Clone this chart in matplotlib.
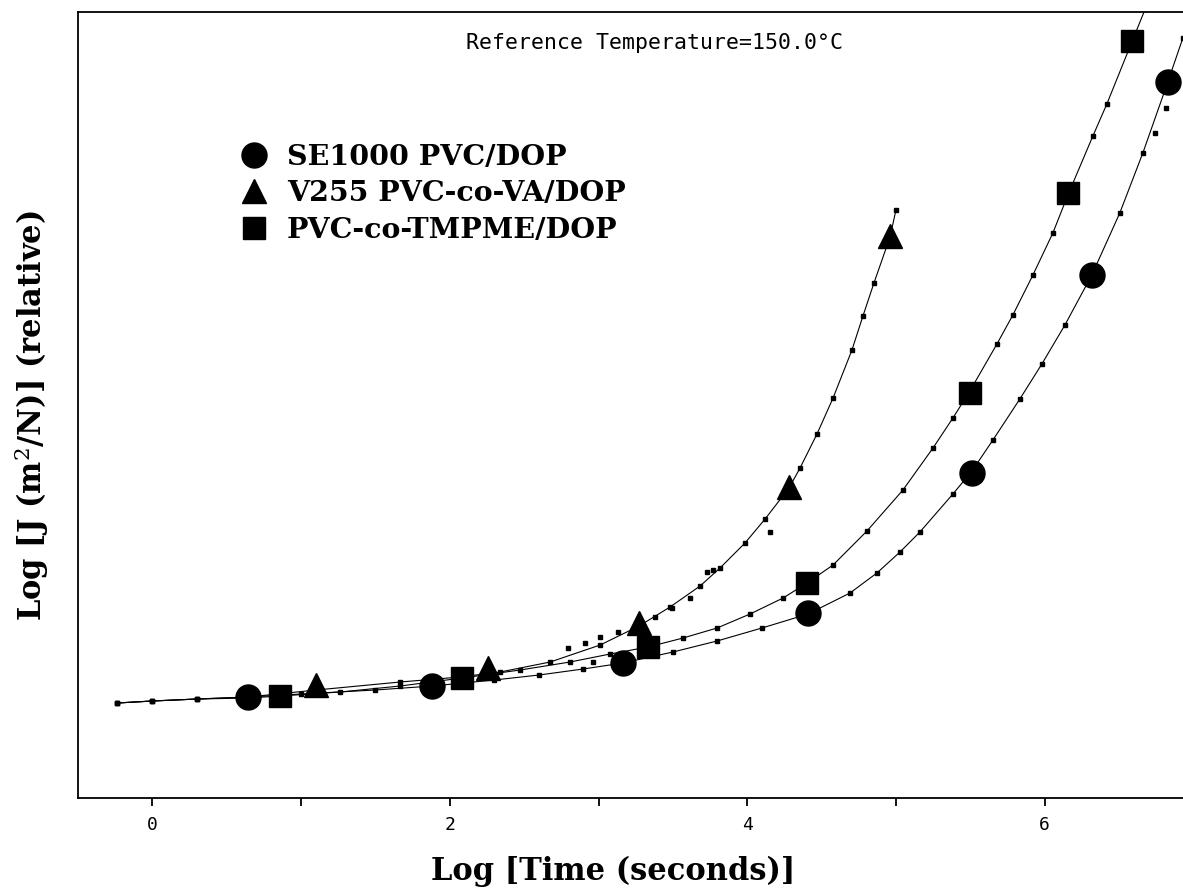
import matplotlib.pyplot as plt
from matplotlib.ticker import FixedLocator

# series names
labels = ["SE1000 PVC/DOP", "V255 PVC-co-VA/DOP", "PVC-co-TMPME/DOP"]

# big symbols (shifted master-curve points)
se_x = [0.645, 1.88, 3.165, 4.41, 5.51, 6.32, 6.83]
se_y = [1.01, 1.12, 1.35, 1.85, 3.25, 5.23, 7.16]
va_x = [1.10, 2.26, 3.27, 4.28, 4.96]
va_y = [1.13, 1.30, 1.75, 3.11, 5.62]
tm_x = [0.86, 2.08, 3.33, 4.40, 5.50, 6.16, 6.59]
tm_y = [1.02, 1.20, 1.51, 2.15, 4.05, 6.05, 7.57]

# fitted curves (with the measured points lying on them)
se_fit_x = [-0.235, 0.0, 0.302, 0.645, 1.001, 1.499, 1.882, 2.298, 2.601, 2.897,
            3.165, 3.501, 3.797, 4.099, 4.409, 4.691, 4.872, 5.027, 5.161, 5.383,
            5.511, 5.652, 5.833, 5.981, 6.136, 6.317, 6.505, 6.660, 6.828, 6.929]
se_fit_y = [0.95, 0.97, 0.99, 1.01, 1.04, 1.08, 1.12, 1.18, 1.23, 1.29,
            1.35, 1.46, 1.57, 1.70, 1.84, 2.05, 2.25, 2.46, 2.66, 3.04,
            3.27, 3.58, 3.99, 4.34, 4.73, 5.23, 5.85, 6.45, 7.16, 7.60]
va_fit_x = [-0.235, 0.0, 0.302, 0.645, 1.102, 1.667, 2.070, 2.339, 2.675, 3.011,
            3.273, 3.481, 3.683, 3.817, 3.985, 4.120, 4.281, 4.355, 4.469, 4.577,
            4.704, 4.778, 4.852, 4.960, 5.000]
va_fit_y = [0.95, 0.97, 0.99, 1.01, 1.08, 1.16, 1.21, 1.26, 1.36, 1.53,
            1.72, 1.91, 2.12, 2.30, 2.55, 2.79, 3.10, 3.30, 3.64, 4.00,
            4.48, 4.82, 5.15, 5.61, 5.88]
tm_fit_x = [-0.235, 0.0, 0.302, 0.645, 0.860, 1.263, 1.667, 2.083, 2.473, 2.809,
            3.078, 3.333, 3.569, 3.797, 4.019, 4.241, 4.402, 4.577, 4.805, 5.047,
            5.249, 5.383, 5.497, 5.679, 5.786, 5.921, 6.055, 6.156, 6.324, 6.418,
            6.586, 6.687]
tm_fit_y = [0.95, 0.97, 0.99, 1.00, 1.02, 1.06, 1.12, 1.20, 1.28, 1.36,
            1.44, 1.51, 1.60, 1.70, 1.84, 2.00, 2.15, 2.33, 2.67, 3.08,
            3.50, 3.80, 4.07, 4.54, 4.83, 5.23, 5.65, 6.03, 6.62, 6.94,
            7.56, 7.93]

# scattered raw points off the curves
va_raw_x = [2.796, 2.910, 3.011, 3.132, 3.380, 3.495, 3.616, 3.730, 3.770, 4.153]
va_raw_y = [1.50, 1.55, 1.61, 1.66, 1.81, 1.90, 2.00, 2.26, 2.28, 2.66]
se_raw_x = [2.964, 6.741, 6.815]
se_raw_y = [1.36, 6.65, 6.90]

xticks_major = [0, 2, 4, 6]
xticks_minor = [1, 3, 5]

W, H = 1183, 890
fig = plt.figure(figsize=(W / 100, H / 100), dpi=100)
ax = fig.add_axes([78 / W, (H - 798) / H, 1 - 78 / W, (798 - 12) / H])

series = [
    (se_x, se_y, se_fit_x, se_fit_y, se_raw_x, se_raw_y, "o", 18),
    (va_x, va_y, va_fit_x, va_fit_y, va_raw_x, va_raw_y, "^", 17),
    (tm_x, tm_y, tm_fit_x, tm_fit_y, [], [], "s", 16),
]
for (mx, my, fx, fy, rx, ry, mk, ms), lab in zip(series, labels):
    ax.plot(fx, fy, color="black", lw=0.8, zorder=2)
    ax.plot(fx, fy, "s", ms=3, color="black", zorder=2)
    if rx:
        ax.plot(rx, ry, "s", ms=3, color="black", zorder=2)
    ax.plot(mx, my, mk, ms=ms, color="black", ls="none", label=lab, zorder=3)

ax.set_xlim(-0.5, 6.93)
ax.set_ylim(0, 7.86)
ax.spines["right"].set_visible(False)
for s in ["left", "bottom", "top"]:
    ax.spines[s].set_linewidth(1.3)
ax.set_yticks([])
ax.xaxis.set_major_locator(FixedLocator(xticks_major))
ax.xaxis.set_minor_locator(FixedLocator(xticks_minor))
ax.tick_params(axis="x", which="both", direction="out", length=6, width=1.3,
               labelsize=13, pad=7)
for t in ax.get_xticklabels():
    t.set_family("DejaVu Sans Mono")

ax.set_xlabel("Log [Time (seconds)]", family="DejaVu Serif", fontweight="bold",
              fontsize=22, va="center")
ax.xaxis.set_label_coords(0.484, -0.093)
ax.set_ylabel("Log [J (m$^{2}$/N)] (relative)", family="DejaVu Serif",
              fontweight="bold", fontsize=22, va="center")
ax.yaxis.set_label_coords(-0.042, 0.487)
ax.yaxis.label.set_math_fontfamily("dejavuserif")

ax.text(0.522, 0.9606, "Reference Temperature=150.0\u00b0C", transform=ax.transAxes,
        family="DejaVu Sans Mono", fontsize=15.5, ha="center", va="center")

ax.legend(loc="upper left", bbox_to_anchor=(0.136, 0.847), frameon=False,
          prop={"family": "DejaVu Serif", "weight": "bold", "size": 20.5},
          handlelength=1.0, handletextpad=0.65, labelspacing=0.34, borderaxespad=0)

fig.savefig("out.png", dpi=100)
